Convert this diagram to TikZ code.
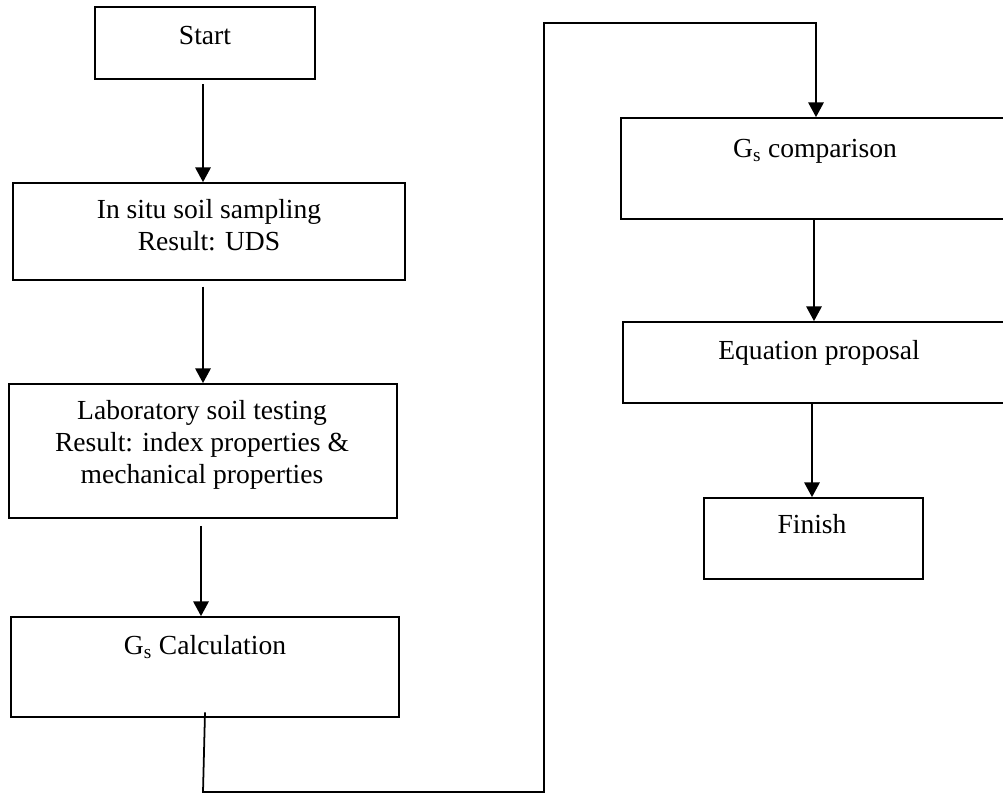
\documentclass[tikz,border=0pt]{standalone}
\usepackage{fontspec}
\setmainfont{Liberation Serif}
\usetikzlibrary{arrows.meta}

\tikzset{
  box/.style={draw, line width=1.25pt, inner sep=0pt},
  txt/.style={align=center, inner sep=0pt, font=\fontsize{19.6}{23}\selectfont},
  flow/.style={line width=1.25pt, -{Triangle[width=11pt,length=10.5pt]}}
}

\begin{document}
\begin{tikzpicture}[x=0.025cm, y=-0.025cm]
      % Fix the page size
      \useasboundingbox (0,0) rectangle (1003,794);
      \clip (0,0) rectangle (1003,794);

      % Draw the boxes of the left column
      \node[box, minimum width=5.5cm, minimum height=1.8cm] (start) at (205,43) {};
      \node[txt, anchor=base] (starttxt) at (205,45) {Start};

      \node[box, minimum width=9.8cm, minimum height=2.425cm] (insitu) at (209,231.5) {};
      \node[txt] (insitutxt) at (209,225) {In situ soil sampling\\Result: UDS};

      \node[box, minimum width=9.7cm, minimum height=3.35cm] (labtest) at (203,451) {};
      \node[txt] (labtesttxt) at (202,445) {Laboratory soil testing\\Result: index properties \&\\mechanical properties};

      \node[box, minimum width=9.7cm, minimum height=2.5cm] (calc) at (205,667) {};
      \node[txt, anchor=base] (calctxt) at (205,654) {G\textsubscript{s} Calculation};

      % Draw the boxes of the right column
      \node[box, minimum width=9.775cm, minimum height=2.525cm] (compare) at (816.5,168.5) {};
      \node[txt, anchor=base] (comparetxt) at (815,157) {G\textsubscript{s} comparison};

      \node[box, minimum width=9.775cm, minimum height=2.025cm] (equation) at (818.5,362.5) {};
      \node[txt, anchor=base] (equationtxt) at (819,359) {Equation proposal};

      \node[box, minimum width=5.475cm, minimum height=2.025cm] (finish) at (813.5,538.5) {};
      \node[txt, anchor=base] (finishtxt) at (812,533) {Finish};

      % Draw the arrows
      \draw[flow] ([yshift=-3]start.south -| 203,0) -- (insitu.north -| 203,0);
      \draw[flow] ([yshift=-4]insitu.south -| 203,0) -- (labtest.north -| 203,0);
      \draw[flow] ([yshift=-5]labtest.south -| 201,0) -- (calc.north -| 201,0);

      % Draw the loop over to the right column
      \coordinate (bl) at (544,792);
      \coordinate (tl) at (544,23);
      \draw[flow] ([yshift=4]calc.south) -- (203,792) -- (bl) -- (tl) -| (compare.north -| 816,0);

      \draw[flow] (compare.south -| 814,0) -- (equation.north -| 814,0);
      \draw[flow] (equation.south -| 812,0) -- (finish.north -| 812,0);
    \end{tikzpicture}
\end{document}
